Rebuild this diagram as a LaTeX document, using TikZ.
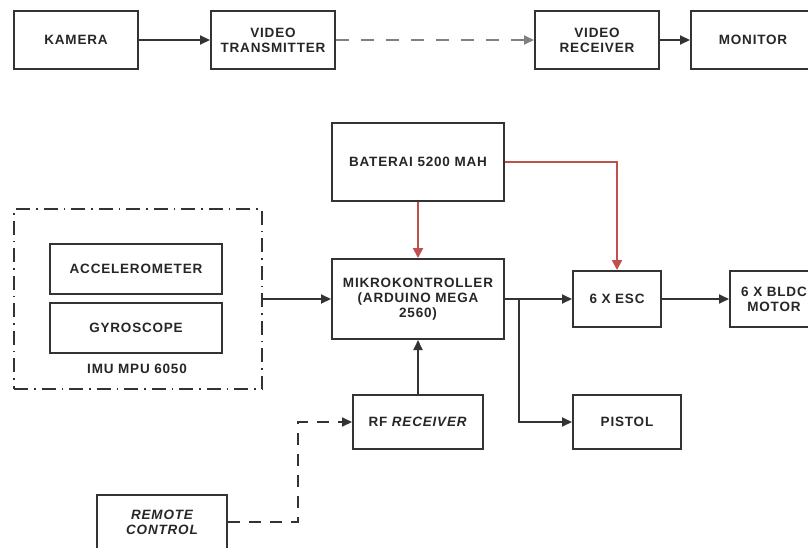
\documentclass[tikz,border=0pt]{standalone}
\usepackage{fontspec}
\setmainfont{Liberation Sans}[LetterSpace=6]
\usetikzlibrary{arrows.meta}

\definecolor{dayamerah}{RGB}{192,80,77}
\tikzset{
  blok/.style={draw=black!80, line width=2pt, inner sep=0pt, align=center,
    text=black!85, font=\bfseries\fontsize{13.5}{15}\selectfont},
  panah/.style={line width=1.8pt, draw=black!80, -{Triangle[length=10pt,width=9pt]}},
  daya/.style={panah, line width=2pt, draw=dayamerah, -{Triangle[length=10pt,width=10pt,fill=dayamerah]}},
  nirkabel/.style={panah, draw=black!50, dash pattern=on 13pt off 12pt},
  sinyalrc/.style={panah, dash pattern=on 12pt off 9pt},
  modul/.style={draw=black!80, line width=2pt, dash pattern=on 14pt off 6pt on 1.5pt off 6pt}
}

\begin{document}
\begin{tikzpicture}[x=1pt,y=-1pt]
\clip (0,0) rectangle (808,547);

% jalur video
\node[blok, minimum width=124pt, minimum height=58pt] (kamera) at (76,40) {KAMERA};
\node[blok, minimum width=124pt, minimum height=58pt] (vtx) at (273,40) {VIDEO\\TRANSMITTER};
\node[blok, minimum width=124pt, minimum height=58pt] (vrx) at (597,40) {VIDEO\\RECEIVER};
\node[blok, minimum width=124pt, minimum height=58pt] (monitor) at (753,40) {MONITOR};

\draw[panah] (kamera) -- (vtx);
\draw[nirkabel] (vtx) -- (vrx);
\draw[panah] (vrx) -- (monitor);

% sistem kendali
\node[blok, minimum width=172pt, minimum height=78pt] (baterai) at (418,162) {BATERAI 5200 MAH};
\node[blok, minimum width=172pt, minimum height=80pt] (mikro) at (418,299) {MIKROKONTROLLER\\(ARDUINO MEGA\\2560)};
\node[blok, minimum width=88pt, minimum height=56pt] (esc) at (617,299) {6 X ESC};
\node[blok, minimum width=88pt, minimum height=56pt] (bldc) at (774,299) {6 X BLDC\\MOTOR};
\node[blok, minimum width=108pt, minimum height=54pt] (pistol) at (627,422) {PISTOL};
\node[blok, minimum width=130pt, minimum height=54pt] (rf) at (418,422) {RF \textit{RECEIVER}};
\node[blok, minimum width=130pt, minimum height=54pt, font=\bfseries\itshape\fontsize{13.5}{15}\selectfont] (remote) at (162,522) {REMOTE\\CONTROL};

% sensor IMU
\node[modul, minimum width=248pt, minimum height=180pt] (imu) at (138,299) {};
\node[blok, minimum width=172pt, minimum height=50pt] (accel) at (136,269) {ACCELEROMETER};
\node[blok, minimum width=172pt, minimum height=50pt] (gyro) at (136,328) {GYROSCOPE};
\node[blok, draw=none] (imulbl) at (137,369) {IMU MPU 6050};

\coordinate (cabang) at (519,299);
\coordinate (belok) at (298,522);

\draw[daya] (baterai) -- (mikro);
\draw[daya] (baterai.east) -| (esc.north);
\draw[panah] (imu.east) -- (mikro.west);
\draw[panah] (mikro.east) -- (esc.west);
\draw[panah] (cabang) |- (pistol.west);
\draw[panah] (esc) -- (bldc);
\draw[panah] (rf) -- (mikro);
\draw[sinyalrc] (remote.east) -- (belok) |- (rf.west);
\end{tikzpicture}
\end{document}
